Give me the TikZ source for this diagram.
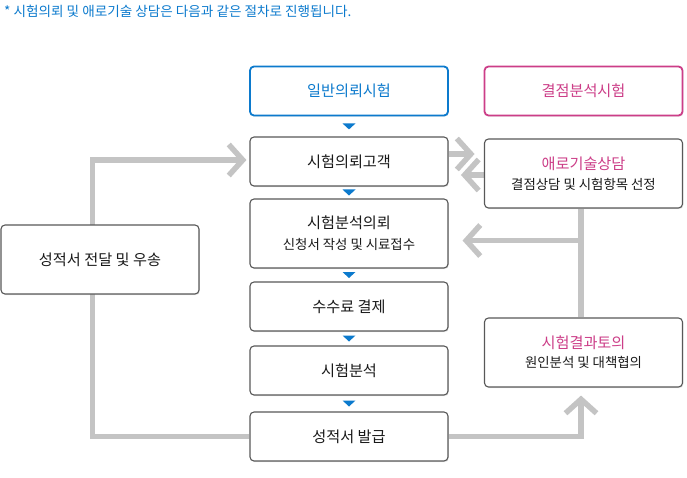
\documentclass[tikz,border=0pt]{standalone}
\usepackage{fontspec}
\setmainfont{Noto Sans CJK KR}
\usetikzlibrary{arrows.meta, positioning, calc, shadows, backgrounds}
\definecolor{reqblue}{RGB}{12,122,205}
\definecolor{defpink}{RGB}{204,62,136}
\definecolor{flowgray}{RGB}{196,196,196}
\definecolor{boxline}{RGB}{88,88,88}

\begin{document}
\begin{tikzpicture}[x=1pt, y=-1pt,
    stepbox/.style={draw=boxline, line width=1.1pt, rounded corners=4pt,
      fill=white, minimum width=198pt, minimum height=49pt, inner sep=0pt,
      align=center, text=black!90, font=\fontsize{15.2}{17}\selectfont,
      drop shadow={shadow xshift=0.8pt, shadow yshift=-1.2pt, opacity=0.2}},
    tallbox/.style={stepbox, minimum height=69pt},
    headbox/.style={stepbox, line width=1.8pt},
    flow/.style={draw=flowgray, line width=5.5pt,
      -{Straight Barb[length=14pt, width=31pt, line cap=butt, line join=miter]}}
  ]
  \useasboundingbox (0,0) rectangle (687,478);

  % note on top
  \node[anchor=west, inner sep=0pt, text=reqblue, font=\fontsize{13.6}{15}\selectfont]
    (note) at (4,11) {* 시험의뢰 및 애로기술 상담은 다음과 같은 절차로 진행됩니다.};

  % centre column
  \node[headbox, draw=reqblue, text=reqblue] (ilban) at (349,91) {일반의뢰시험};
  \node[stepbox] (gogaek) at (349,161.5) {시험의뢰고객};
  \node[tallbox] (uiroe) at (349,233.5)
    {시험분석의뢰\\[4pt]{\fontsize{13.4}{15}\selectfont 신청서 작성 및 시료접수}};
  \node[stepbox] (susuryo) at (349,306.5) {수수료 결제};
  \node[stepbox] (bunseok) at (349,370.5) {시험분석};
  \node[stepbox] (balgeup) at (349,436.5) {성적서 발급};

  % side boxes
  \node[tallbox] (jeondal) at (100,259.5) {성적서 전달 및 우송};
  \node[headbox, draw=defpink, text=defpink] (gyeoljeom) at (583.5,91) {결점분석시험};
  \node[tallbox] (aero) at (583.5,173.5)
    {\textcolor{defpink}{애로기술상담}\\[3pt]{\fontsize{13.4}{15}\selectfont 결점상담 및 시험항목 선정}};
  \node[tallbox] (toui) at (583.5,352.5)
    {\textcolor{defpink}{시험결과토의}\\[2pt]{\fontsize{13.4}{15}\selectfont 원인분석 및 대책협의}};

  % small blue markers
  \foreach \a/\b in {ilban/gogaek, gogaek/uiroe, uiroe/susuryo, susuryo/bunseok, bunseok/balgeup}
    \fill[reqblue] ($(\a.south)!0.5!(\b.north)$) +(-6.5,-3) -- +(6.5,-3) -- +(0,3) -- cycle;

  % grey flow lines, behind the boxes
  \begin{pgfonlayer}{background}
    \draw[flow, shorten >=3pt] (balgeup.west) -- ++(-157,0) |- ([yshift=1.5pt]gogaek.west);
    \draw[flow] ([yshift=7.5pt]gogaek.east) -- ++(26,0);
    \draw[flow] ([yshift=-1.5pt]aero.west) -- ++(-23,0);
    \draw[flow, -] ([xshift=-2.5pt]aero.south) -- ([xshift=-2.5pt]toui.north);
    \coordinate (split) at ([xshift=-2.5pt, yshift=-32pt]aero.south);
    \draw[flow, shorten >=14pt] (split) -- (split -| uiroe.east);
    \draw[flow, shorten >=8pt] (balgeup.east) -| ([xshift=-2.5pt]toui.south);
  \end{pgfonlayer}
\end{tikzpicture}
\end{document}
